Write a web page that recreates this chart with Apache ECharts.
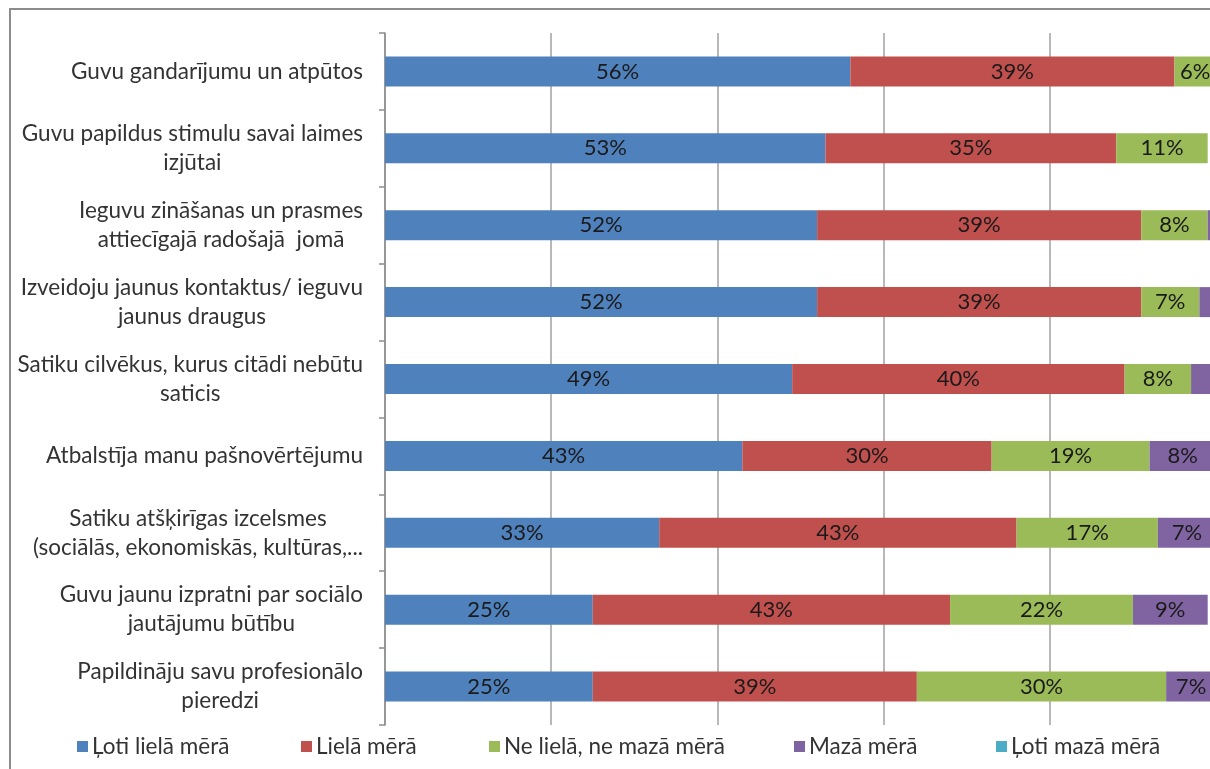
<!DOCTYPE html>
<html>
<head>
<meta charset="utf-8">
<script src="https://cdn.jsdelivr.net/npm/echarts@6/dist/echarts.min.js"></script>
<style>
html,body{margin:0;padding:0;overflow:hidden;background:#fff;}
#c{width:1240px;height:769px;}
</style>
</head>
<body>
<div id="c"></div>
<script>
const categories = [
  "Guvu gandarījumu un atpūtos",
  "Guvu papildus stimulu savai laimes\nizjūtai",
  "Ieguvu zināšanas un prasmes\nattiecīgajā radošajā  jomā",
  "Izveidoju jaunus kontaktus/ ieguvu\njaunus draugus",
  "Satiku cilvēkus, kurus citādi nebūtu\nsaticis",
  "Atbalstīja manu pašnovērtējumu",
  "Satiku atšķirīgas izcelsmes\n(sociālās, ekonomiskās, kultūras,...",
  "Guvu jaunu izpratni par sociālo\njautājumu būtību",
  "Papildināju savu profesionālo\npieredzi"
];
const seriesNames = ["Ļoti lielā mērā", "Lielā mērā", "Ne lielā, ne mazā mērā", "Mazā mērā", "Ļoti mazā mērā"];
const lotiLiela = [56, 53, 52, 52, 49, 43, 33, 25, 25];
const liela     = [39, 35, 39, 39, 40, 30, 43, 43, 39];
const neNe      = [6, 11, 8, 7, 8, 19, 17, 22, 30];
const maza      = [0, 0, 1, 2, 3, 8, 7, 9, 7];
const lotiMaza  = [0, 0, 0, 0, 0, 0, 0, 0, 0];
const xTicks = [0, 20, 40, 60, 80, 100];

const colors = ["#4F81BD", "#C0504D", "#9BBB59", "#8064A2", "#4BACC6"];
const allData = [lotiLiela, liela, neNe, maza, lotiMaza];
const legendLeft = [77, 301, 489, 794, 996];
const FONT = "Lato, 'Open Sans', sans-serif";

const chart = echarts.init(document.getElementById('c'));
const series = seriesNames.map((n, i) => ({
  name: n,
  type: 'bar',
  stack: 'total',
  barWidth: 30,
  itemStyle: { color: colors[i] },
  label: {
    show: true,
    position: 'inside',
    color: '#1a1a1a',
    fontSize: 22,
    fontFamily: FONT,
    formatter: p => p.value >= 4 ? p.value + '%' : ''
  },
  emphasis: { disabled: true },
  data: allData[i]
}));

const legends = seriesNames.map((n, i) => ({
  data: [n],
  left: legendLeft[i],
  top: 735,
  padding: 0,
  icon: 'rect',
  itemWidth: 11,
  itemHeight: 11,
  itemGap: 4,
  textStyle: { fontSize: 22.5, color: '#333', fontFamily: FONT, padding: [0, 0, 0, -1] },
  selectedMode: false
}));

chart.setOption({
  animation: false,
  color: colors,
  grid: { left: 385, right: 24, top: 33, bottom: 44 },
  legend: legends,
  graphic: [{
    type: 'rect',
    shape: { x: 10, y: 9, width: 1400, height: 900 },
    style: { fill: 'none', stroke: '#8c8c8c', lineWidth: 2 },
    silent: true
  }],
  xAxis: {
    type: 'value',
    min: xTicks[0],
    max: xTicks[xTicks.length - 1],
    interval: xTicks[1] - xTicks[0],
    axisLabel: { show: false },
    axisLine: { show: false },
    axisTick: { show: false },
    splitLine: { show: true, lineStyle: { color: '#a0a0a0', width: 1.5 } }
  },
  yAxis: {
    type: 'category',
    inverse: true,
    data: categories,
    axisLine: { show: true, lineStyle: { color: '#8c8c8c', width: 1.5 } },
    axisTick: { show: true, length: 6, lineStyle: { color: '#8c8c8c', width: 1.5 } },
    axisLabel: {
      margin: 22,
      fontSize: 22.5,
      color: '#333',
      fontFamily: FONT,
      lineHeight: 29,
      formatter: v => v.split('\n').map(l => '{c|' + l + '}').join('\n'),
      rich: { c: { align: 'center', fontSize: 22.5, color: '#333', fontFamily: FONT, lineHeight: 29 } }
    }
  },
  series: series
});
</script>
</body>
</html>
